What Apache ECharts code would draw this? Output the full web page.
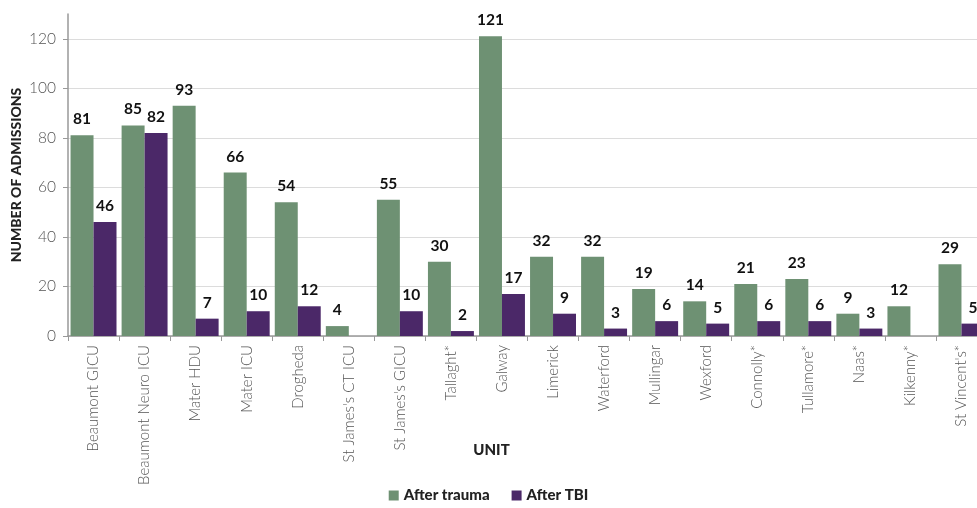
<!DOCTYPE html>
<html><head><meta charset="utf-8">
<script src="https://cdn.jsdelivr.net/npm/echarts@6/dist/echarts.min.js"></script>
<style>html,body{margin:0;padding:0;background:#fff}#c{width:977px;height:508px}</style>
</head><body><div id="c"></div>
<script>
const categories = ["Beaumont GICU","Beaumont Neuro ICU","Mater HDU","Mater ICU","Drogheda","St James's CT ICU","St James's GICU","Tallaght*","Galway","Limerick","Waterford","Mullingar","Wexford","Connolly*","Tullamore*","Naas*","Kilkenny*","St Vincent's*"];
const afterTrauma = [81,85,93,66,54,4,55,30,121,32,32,19,14,21,23,9,12,29];
const afterTBI = [46,82,7,10,12,null,10,2,17,9,3,6,5,6,6,3,null,5];

const chart = echarts.init(document.getElementById('c'), null, {renderer:'canvas'});
const lbl = {show:true, position:'top', distance:8, color:'#111', fontFamily:'Lato', fontWeight:'bold', fontSize:15.5};
chart.setOption({
  animation:false,
  textStyle:{fontFamily:'Lato'},
  grid:{left:68, right:-10, top:14, bottom:172, containLabel:false, outerBoundsMode:'none'},
  legend:{bottom:0, left:'center', itemWidth:10, itemHeight:10, itemGap:22,
    icon:'rect',
    textStyle:{fontFamily:'Lato', fontWeight:900, fontSize:15, color:'#222'},
    data:['After trauma','After TBI']},
  xAxis:{type:'category', data:categories,
    name:'UNIT', nameLocation:'middle', nameGap:107, nameMoveOverlap:false,
    nameTextStyle:{fontFamily:'Lato', fontWeight:900, fontSize:15, color:'#222', padding:[0,72,0,0]},
    axisLine:{lineStyle:{color:'#999', width:1.5}},
    axisTick:{show:true, length:5, lineStyle:{color:'#999'}},
    axisLabel:{rotate:90, margin:9, color:'#555', fontFamily:'Lato', fontWeight:300, fontSize:15, interval:0}},
  yAxis:{type:'value', min:0, max:130, interval:20,
    name:'NUMBER OF ADMISSIONS', nameLocation:'middle', nameGap:45, nameRotate:90, nameMoveOverlap:false,
    nameTextStyle:{fontFamily:'Lato', fontWeight:900, fontSize:14, color:'#222'},
    axisLine:{show:true, lineStyle:{color:'#999', width:1.5}},
    axisTick:{show:true, length:5, lineStyle:{color:'#999'}},
    axisLabel:{showMaxLabel:false, margin:12, color:'#555', fontFamily:'Lato', fontWeight:300, fontSize:15.5},
    splitLine:{show:true, lineStyle:{color:['#dcdcdc','#dcdcdc','#dcdcdc','#dcdcdc','#dcdcdc','#dcdcdc','#dcdcdc','rgba(0,0,0,0)']}}},
  series:[
    {name:'After trauma', type:'bar', data:afterTrauma, itemStyle:{color:'#6e9173'},
     barGap:'0%', barCategoryGap:'10%', label:lbl},
    {name:'After TBI', type:'bar', data:afterTBI, itemStyle:{color:'#4b2868'},
     barGap:'0%', barCategoryGap:'10%', label:lbl}
  ]
});
</script></body></html>
